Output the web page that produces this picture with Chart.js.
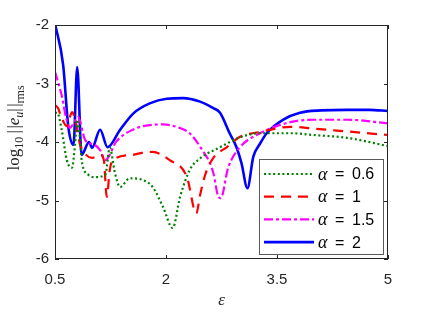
<!DOCTYPE html>
<html>
<head>
<meta charset="utf-8">
<script src="https://cdn.jsdelivr.net/npm/chart.js@4.4.0/dist/chart.umd.min.js"></script>
<style>
  html, body { margin: 0; padding: 0; background: #fff; }
  #wrap { width: 428px; height: 314px; }
</style>
</head>
<body>
<div id="wrap"><canvas id="errChart" width="428" height="314"></canvas></div>
<script>
// axis ticks
var xTicks = [0.5, 2, 3.5, 5];
var yTicks = [-6, -5, -4, -3, -2];
var alphas = ["0.6", "1", "1.5", "2"];

// alpha = 0.6
var eps06 = [0.5, 0.53, 0.59, 0.66, 0.73, 0.77, 0.80, 0.84, 0.86, 0.95, 1.04, 1.18, 1.24, 1.31, 1.38, 1.51, 1.69, 1.82, 1.96, 2.09, 2.19, 2.32, 2.46, 2.73, 3.0, 3.27, 3.68, 3.99, 4.45, 5.0];
var err06 = [-3.50, -3.50, -3.79, -4.31, -4.44, -4.05, -3.62, -3.97, -4.31, -4.56, -4.60, -4.56, -4.10, -4.53, -4.77, -4.62, -4.65, -4.77, -5.11, -5.47, -4.94, -4.48, -4.28, -4.09, -3.92, -3.85, -3.85, -3.88, -3.93, -4.07];
// alpha = 1
var eps1 = [0.5, 0.54, 0.59, 0.66, 0.73, 0.78, 0.84, 0.92, 1.0, 1.11, 1.16, 1.20, 1.24, 1.28, 1.55, 1.69, 1.82, 2.05, 2.28, 2.41, 2.46, 2.53, 2.64, 2.82, 3.0, 3.27, 3.68, 3.99, 4.45, 5.0];
var err1 = [-3.37, -3.42, -3.59, -3.73, -3.49, -3.66, -4.05, -4.22, -4.27, -4.22, -4.31, -4.94, -4.48, -4.31, -4.22, -4.18, -4.17, -4.31, -4.59, -5.22, -4.91, -4.56, -4.27, -4.09, -3.91, -3.83, -3.74, -3.77, -3.82, -3.88];
// alpha = 1.5
var eps15 = [0.5, 0.59, 0.65, 0.70, 0.76, 0.81, 0.91, 1.04, 1.11, 1.18, 1.33, 1.55, 1.78, 1.96, 2.14, 2.32, 2.46, 2.64, 2.70, 2.74, 2.84, 3.0, 3.27, 3.68, 3.99, 4.45, 5.0];
var err15 = [-2.80, -3.20, -3.59, -3.76, -3.66, -3.57, -3.97, -4.05, -4.14, -4.31, -3.99, -3.79, -3.71, -3.70, -3.74, -3.85, -4.08, -4.53, -4.91, -4.96, -4.44, -4.09, -3.85, -3.66, -3.62, -3.62, -3.68];
// alpha = 2
var eps2 = [0.5, 0.61, 0.68, 0.75, 0.80, 0.86, 0.96, 1.0, 1.11, 1.21, 1.38, 1.56, 1.78, 2.01, 2.23, 2.46, 2.64, 2.73, 2.86, 2.95, 3.02, 3.10, 3.18, 3.27, 3.36, 3.58, 3.81, 4.1, 4.44, 4.75, 5.0];
var err2 = [-1.98, -2.68, -3.74, -4.05, -2.72, -4.22, -4.0, -4.1, -3.79, -4.09, -3.79, -3.51, -3.34, -3.26, -3.25, -3.31, -3.42, -3.50, -3.85, -4.08, -4.36, -4.79, -4.25, -4.03, -3.85, -3.62, -3.50, -3.46, -3.45, -3.45, -3.47];

function pts(xs, ys) {
  return xs.map(function (x, i) { return { x: x, y: ys[i] }; });
}

var axisColor = "#262626";
var sans = '"Liberation Sans", Arial, sans-serif';
var serif = '"Liberation Serif", "DejaVu Serif", serif';

// y axis title drawn with sub-scripts
var yTitle = {
  id: "yTitle",
  afterDraw: function (chart) {
    var ctx = chart.ctx, a = chart.chartArea;
    var parts = [
      ["log", "17px " + serif, 0],
      ["10", "12px " + serif, 4],
      ["\u2009|\u200a|", "17px " + serif, 0],
      ["e", "italic 17px " + serif, 0],
      ["u", "italic 12px " + serif, 4],
      ["|\u200a|", "17px " + serif, 0],
      ["rms", "12px " + serif, 5]
    ];
    ctx.save();
    var total = 0;
    parts.forEach(function (p) { ctx.font = p[1]; p.push(ctx.measureText(p[0]).width); total += p[3]; });
    ctx.translate(19, (a.top + a.bottom) / 2 - 14);
    ctx.rotate(-Math.PI / 2);
    ctx.fillStyle = axisColor;
    ctx.textBaseline = "alphabetic";
    var x = -total / 2;
    parts.forEach(function (p) {
      ctx.font = p[1];
      ctx.fillText(p[0], x, p[2]);
      x += p[3];
    });
    ctx.restore();
  }
};

// box with inward ticks
var frame = {
  id: "frame",
  afterDatasetsDraw: function (chart) {
    var ctx = chart.ctx, a = chart.chartArea, xs = chart.scales.x, ys = chart.scales.y;
    ctx.save();
    ctx.strokeStyle = axisColor;
    ctx.lineWidth = 1;
    ctx.strokeRect(a.left + 0.5, a.top + 0.5, a.right - a.left - 1, a.bottom - a.top - 1);
    ctx.beginPath();
    xTicks.forEach(function (v) {
      var px = Math.round(xs.getPixelForValue(v)) + 0.5;
      ctx.moveTo(px, a.bottom); ctx.lineTo(px, a.bottom - 4);
      ctx.moveTo(px, a.top); ctx.lineTo(px, a.top + 4);
    });
    yTicks.forEach(function (v) {
      var py = Math.round(ys.getPixelForValue(v)) + 0.5;
      ctx.moveTo(a.left, py); ctx.lineTo(a.left + 4, py);
      ctx.moveTo(a.right, py); ctx.lineTo(a.right - 4, py);
    });
    ctx.stroke();
    ctx.restore();
  }
};

// legend box inside, lower right
var innerLegend = {
  id: "innerLegend",
  afterDraw: function (chart) {
    var ctx = chart.ctx, a = chart.chartArea;
    var w = 124, h = 95;
    var bx = a.right - 5 - w, by = a.bottom - 5 - h;
    ctx.save();
    ctx.fillStyle = "#fff";
    ctx.fillRect(bx, by, w, h);
    ctx.strokeStyle = "#5a5a5a";
    ctx.lineWidth = 1;
    ctx.strokeRect(bx + 0.5, by + 0.5, w, h);
    chart.data.datasets.forEach(function (ds, i) {
      var y = by + 15 + i * 22.7;
      ctx.beginPath();
      ctx.strokeStyle = ds.borderColor;
      ctx.lineWidth = ds.borderWidth;
      ctx.setLineDash(ds.borderDash || []);
      ctx.moveTo(bx + 5, y);
      ctx.lineTo(bx + 55, y);
      ctx.stroke();
      ctx.setLineDash([]);
      ctx.fillStyle = "#000";
      ctx.textBaseline = "middle";
      ctx.font = "italic 18px " + serif;
      ctx.fillText("\u03b1", bx + 59, y + 1);
      ctx.font = "16px " + sans;
      ctx.fillText("=", bx + 76, y + 1);
      ctx.fillText(alphas[i], bx + 93, y + 1);
    });
    ctx.restore();
  }
};

var errChart = new Chart(document.getElementById("errChart"), {
  type: "line",
  data: {
    datasets: [
      {
        label: "\u03b1 = " + alphas[0],
        data: pts(eps06, err06),
        borderColor: "#008000",
        borderWidth: 2.2,
        borderDash: [2, 2.6],
        cubicInterpolationMode: "monotone"
      },
      {
        label: "\u03b1 = " + alphas[1],
        data: pts(eps1, err1),
        borderColor: "#ff0000",
        borderWidth: 2.2,
        borderDash: [10, 7],
        cubicInterpolationMode: "monotone"
      },
      {
        label: "\u03b1 = " + alphas[2],
        data: pts(eps15, err15),
        borderColor: "#ff00ff",
        borderWidth: 2.2,
        borderDash: [9, 3, 3, 3],
        cubicInterpolationMode: "monotone"
      },
      {
        label: "\u03b1 = " + alphas[3],
        data: pts(eps2, err2),
        borderColor: "#0000ff",
        borderWidth: 2.6,
        cubicInterpolationMode: "monotone"
      }
    ]
  },
  options: {
    responsive: false,
    animation: false,
    devicePixelRatio: 1,
    layout: { padding: { left: 0, right: 40, top: 25, bottom: 0 } },
    elements: { point: { radius: 0 } },
    plugins: { legend: { display: false }, tooltip: { enabled: false } },
    scales: {
      x: {
        type: "linear",
        min: 0.5,
        max: 5,
        afterBuildTicks: function (s) { s.ticks = xTicks.map(function (v) { return { value: v }; }); },
        afterFit: function (s) { s.height = 55; },
        grid: { display: false, drawTicks: false },
        border: { display: false },
        ticks: { color: axisColor, font: { family: sans, size: 15 }, padding: 12, maxRotation: 0,
                 callback: function (v) { return String(v); } },
        title: { display: true, text: "\u03b5", color: axisColor, font: { family: serif, size: 17, style: "italic" }, padding: { top: 0, bottom: 3 } }
      },
      y: {
        type: "linear",
        min: -6,
        max: -2,
        afterBuildTicks: function (s) { s.ticks = yTicks.map(function (v) { return { value: v }; }); },
        afterFit: function (s) { s.width = 55; },
        grid: { display: false, drawTicks: false },
        border: { display: false },
        ticks: { color: axisColor, font: { family: sans, size: 15 }, padding: 6,
                 callback: function (v) { return String(v); } }
      }
    }
  },
  plugins: [frame, yTitle, innerLegend]
});
</script>
</body>
</html>
